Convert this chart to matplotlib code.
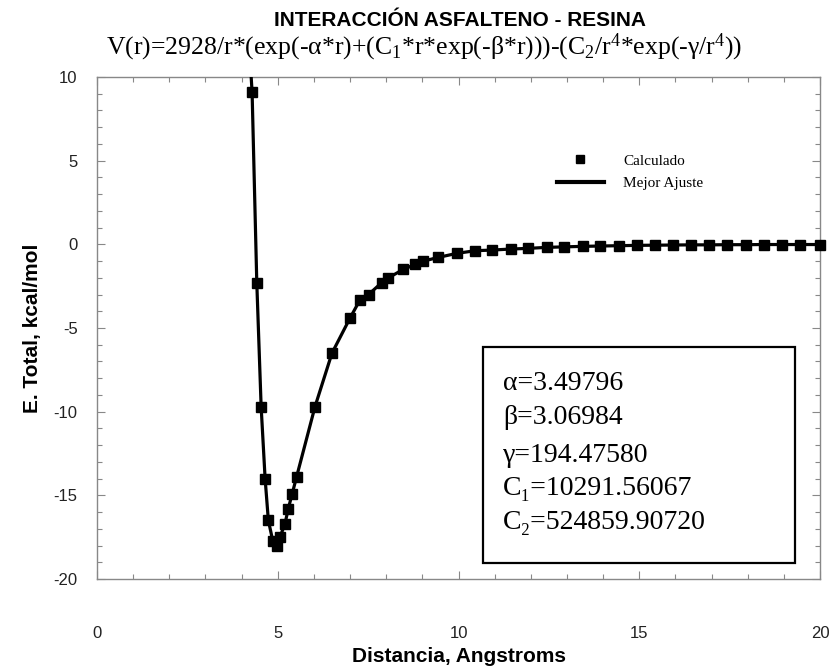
import matplotlib
matplotlib.use('Agg')
import matplotlib.pyplot as plt
from matplotlib.lines import Line2D
from matplotlib.patches import Rectangle

plt.rcParams['mathtext.fontset'] = 'custom'
plt.rcParams['mathtext.rm'] = 'Liberation Serif'
plt.rcParams['mathtext.it'] = 'Liberation Serif:italic'
plt.rcParams['mathtext.default'] = 'rm'
plt.rcParams['axes.unicode_minus'] = False

# puntos calculados (distancia en Angstroms, energia en kcal/mol)
r_calc = [4.29, 4.42, 4.54, 4.65, 4.74, 4.86, 4.97, 5.06, 5.20, 5.29, 5.40, 5.52,
          6.03, 6.50, 7.00, 7.28, 7.51, 7.87, 8.06, 8.47, 8.80, 9.03, 9.44, 9.95,
          10.46, 10.94, 11.44, 11.93, 12.44, 12.93, 13.43, 13.91, 14.44, 14.93,
          15.44, 15.94, 16.44, 16.94, 17.44, 17.94, 18.44, 18.94, 19.44, 20.0]
e_calc = [9.1, -2.3, -9.7, -14.0, -16.5, -17.7, -18.0, -17.5, -16.7, -15.8, -14.9, -13.9,
          -9.7, -6.5, -4.4, -3.3, -3.0, -2.3, -2.0, -1.5, -1.2, -1.0, -0.78, -0.54,
          -0.38, -0.34, -0.28, -0.24, -0.18, -0.15, -0.12, -0.10, -0.08, -0.06,
          -0.05, -0.04, -0.03, -0.03, -0.02, -0.02, -0.01, -0.01, -0.01, -0.01]

# curva de mejor ajuste
r_fit = [4.25] + r_calc
e_fit = [10.5] + e_calc

params = ['α=3.49796', 'β=3.06984', 'γ=194.47580',
          'C₁=10291.56067', 'C₂=524859.90720']

serif = ['Liberation Serif', 'DejaVu Serif']

fig = plt.figure(figsize=(8.32, 6.71), dpi=100)
ax = fig.add_axes([0.1166, 0.1371, 0.8690, 0.7481])

ax.plot(r_fit, e_fit, color='black', lw=2.3, zorder=3)
ax.plot(r_calc, e_calc, linestyle='none', marker='s', ms=7, color='black',
        zorder=4, clip_on=False)

ax.set_xlim(0, 20)
ax.set_ylim(-20, 10)
ax.set_xticks([0, 5, 10, 15, 20])
ax.set_yticks([-20, -15, -10, -5, 0, 5, 10])
ax.set_xticks(range(0, 21), minor=True)
ax.set_yticks(range(-20, 11), minor=True)
ax.tick_params(which='both', direction='in', top=True, right=True,
               color='#888888', width=0.8)
ax.tick_params(which='major', length=6)
ax.tick_params(which='minor', length=3.5)
ax.tick_params(axis='x', pad=34, labelsize=12, labelcolor='#222222')
ax.tick_params(axis='y', pad=14, labelsize=12, labelcolor='#222222')
for lab in ax.get_xticklabels() + ax.get_yticklabels():
    lab.set_family('Liberation Sans')
for sp in ax.spines.values():
    sp.set_color('#888888')
    sp.set_linewidth(1.0)

ax.set_xlabel('Distancia, Angstroms', family='Liberation Sans', fontweight='bold',
              fontsize=15, labelpad=4)
ax.set_ylabel('E. Total, kcal/mol', family='Liberation Sans', fontweight='bold',
              fontsize=15, labelpad=8)

fig.text(0.553, 0.969, 'INTERACCIÓN ASFALTENO - RESINA', ha='center', va='center',
         family='Liberation Sans', fontweight='bold', fontsize=15)
fig.text(0.510, 0.929,
         r'V(r)=2928/r*(exp(-α*r)+(C$_1$*r*exp(-β*r)))-(C$_2$/r$^4$*exp(-γ/r$^4$))',
         ha='center', va='center', family='Liberation Serif', fontsize=18.5)

# leyenda
handles = [Line2D([], [], linestyle='none', marker='s', ms=6, color='black'),
           Line2D([], [], color='black', lw=3)]
ax.legend(handles, ['Calculado', 'Mejor Ajuste'], loc='upper left',
          bbox_to_anchor=(0.625, 0.862), frameon=False, borderpad=0,
          handlelength=3.1, handletextpad=1.25, labelspacing=0.6,
          prop={'family': 'Liberation Serif', 'size': 11})

# recuadro con los parametros del ajuste
ax.add_patch(Rectangle((0.534, 0.032), 0.431, 0.430, transform=ax.transAxes,
                       fill=False, edgecolor='black', lw=1.6, zorder=5))
y_pos = [0.396, 0.327, 0.253, 0.187, 0.118]
for txt, yp in zip(params, y_pos):
    ax.text(0.5615, yp, txt, transform=ax.transAxes, ha='left', va='center_baseline',
            family=serif, fontsize=20, zorder=6)

plt.savefig('out.png', dpi=100)
